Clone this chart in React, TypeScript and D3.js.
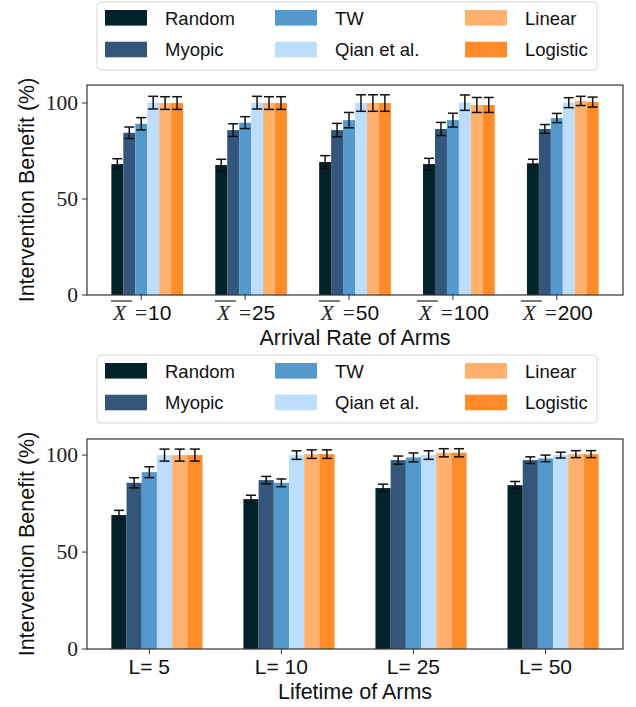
import React from 'react';
import * as d3 from 'd3';

// series / categories
const methods = ['Random', 'Myopic', 'TW', 'Qian et al.', 'Linear', 'Logistic'];
const methodColors = ['#03232a', '#34567a', '#5598cb', '#bcdefc', '#ffb16d', '#ff8c28'];

const arrivalRates = ['10', '25', '50', '100', '200'];
// rows = methods, cols = arrival rates
const arrivalMean: number[][] = [
  [68.2, 67.7, 69.3, 68.2, 68.6],
  [84.5, 85.9, 85.9, 86.5, 86.5],
  [89.2, 89.8, 91.1, 91.1, 92.2],
  [100.2, 100.2, 100.0, 100.2, 100.2],
  [100.0, 100.0, 100.0, 99.0, 101.1],
  [100.0, 100.0, 100.0, 99.0, 100.5],
];
const arrivalErr: number[][] = [
  [2.8, 3.0, 3.3, 3.0, 2.1],
  [3.0, 3.3, 3.5, 3.4, 2.3],
  [3.2, 3.1, 4.0, 3.6, 2.4],
  [3.3, 3.3, 4.3, 4.0, 2.6],
  [3.3, 3.3, 4.3, 3.9, 2.4],
  [3.3, 3.3, 4.3, 3.9, 2.6],
];

const lifetimes = ['5', '10', '25', '50'];
const lifetimeMean: number[][] = [
  [69.1, 77.3, 83.0, 84.5],
  [85.7, 87.1, 97.4, 97.4],
  [91.2, 85.7, 98.8, 98.3],
  [100.0, 100.0, 100.0, 100.0],
  [100.0, 100.5, 101.2, 100.5],
  [100.0, 100.5, 101.2, 100.5],
];
const lifetimeErr: number[][] = [
  [2.4, 2.0, 2.0, 1.9],
  [2.6, 1.9, 2.1, 1.7],
  [2.8, 2.0, 2.3, 1.7],
  [3.1, 2.2, 2.2, 1.5],
  [3.1, 2.2, 2.1, 1.8],
  [3.1, 2.2, 2.1, 1.8],
];

const yTicks = [0, 50, 100];

const SANS = '"Liberation Sans", Arial, sans-serif';
const SERIF = '"Liberation Serif", "Times New Roman", serif';

const BAR_W = 0.115;
const AX_LEFT = 87;
const AX_RIGHT = 623;

interface PanelProps {
  top: number;
  bottom: number;
  yMax: number;
  cats: string[];
  mean: number[][];
  err: number[][];
  xLabel: string;
  tickLabel: (c: string, cx: number, by: number) => React.ReactNode;
  legendTop: number;
}

const Legend: React.FC<{ y: number }> = ({ y }) => {
  const colX = [105, 275, 465];
  const textX = [165, 335, 525];
  return (
    <g>
      <rect x={97} y={y} width={500} height={68} rx={4} fill="#fff" stroke="#d6d6d6" strokeWidth={1} />
      {methods.map((m, i) => {
        const col = Math.floor(i / 2);
        const row = i % 2;
        const ry = y + 8 + row * 31.7;
        return (
          <g key={m}>
            <rect x={colX[col]} y={ry} width={42} height={15.6} fill={methodColors[i]} />
            <text x={textX[col]} y={ry + 14.5} fontFamily={SANS} fontSize={18.5} fill="#111">
              {m}
            </text>
          </g>
        );
      })}
    </g>
  );
};

// "X̄ =10" style label, laid out by hand so the bar over X sits right
const meanLabel = (c: string, cx: number, by: number) => {
  const w = 37 + c.length * 11.7;
  const x0 = cx - w / 2;
  return (
    <g>
      <line x1={x0} x2={x0 + 21} y1={by - 19} y2={by - 19} stroke="#222" strokeWidth={1.2} />
      <text x={x0 + 2} y={by} fontFamily={SERIF} fontStyle="italic" fontSize={21.5} fill="#222">
        X
      </text>
      <text x={x0 + 24} y={by} fontFamily={SERIF} fontSize={21.5} fill="#222">
        =
      </text>
      <text x={x0 + 37} y={by} fontFamily={SANS} fontSize={21} fill="#111">
        {c}
      </text>
    </g>
  );
};

const Panel: React.FC<PanelProps> = ({ top, bottom, yMax, cats, mean, err, xLabel, tickLabel, legendTop }) => {
  const n = cats.length;
  const lo = -2.5 * BAR_W;
  const hi = n - 1 + 3.5 * BAR_W;
  const span = hi - lo;
  const x = d3.scaleLinear().domain([lo - 0.05 * span, hi + 0.05 * span]).range([AX_LEFT, AX_RIGHT]);
  const y = d3.scaleLinear().domain([0, yMax]).range([bottom, top]);
  const bw = x(BAR_W) - x(0);
  const cap = 5;

  return (
    <g>
      {/* bars */}
      {methods.map((m, j) =>
        cats.map((c, i) => {
          const cx = x(i + (j - 2) * BAR_W);
          return (
            <rect
              key={m + c}
              x={cx - bw / 2}
              y={y(mean[j][i])}
              width={bw}
              height={y(0) - y(mean[j][i])}
              fill={methodColors[j]}
            />
          );
        })
      )}
      {/* error bars */}
      {methods.map((m, j) =>
        cats.map((c, i) => {
          const cx = x(i + (j - 2) * BAR_W);
          const y1 = y(mean[j][i] - err[j][i]);
          const y2 = y(mean[j][i] + err[j][i]);
          return (
            <g key={'e' + m + c} stroke="#111" strokeWidth={1.5}>
              <line x1={cx} x2={cx} y1={y1} y2={y2} />
              <line x1={cx - cap} x2={cx + cap} y1={y1} y2={y1} />
              <line x1={cx - cap} x2={cx + cap} y1={y2} y2={y2} />
            </g>
          );
        })
      )}
      {/* frame */}
      <rect x={AX_LEFT} y={top} width={AX_RIGHT - AX_LEFT} height={bottom - top} fill="none" stroke="#333" strokeWidth={1.2} />
      {/* y ticks */}
      {yTicks.map(t => (
        <g key={t}>
          <line x1={AX_LEFT - 5} x2={AX_LEFT} y1={y(t)} y2={y(t)} stroke="#333" strokeWidth={1} />
          <text x={AX_LEFT - 9} y={y(t) + 7} textAnchor="end" fontFamily={SERIF} fontSize={21.5} fill="#222">
            {t}
          </text>
        </g>
      ))}
      {/* x ticks */}
      {cats.map((c, i) => (
        <g key={c}>
          <line x1={x(i)} x2={x(i)} y1={bottom} y2={bottom + 5} stroke="#333" strokeWidth={1} />
          {tickLabel(c, x(i), bottom + 25)}
        </g>
      ))}
      <text x={(AX_LEFT + AX_RIGHT) / 2} y={bottom + 50} textAnchor="middle" fontFamily={SANS} fontSize={21.5} fill="#111">
        {xLabel}
      </text>
      <text
        transform={`translate(34, ${(top + bottom) / 2}) rotate(-90)`}
        textAnchor="middle"
        fontFamily={SANS}
        fontSize={21.5}
        fill="#111"
      >
        Intervention Benefit (%)
      </text>
      <Legend y={legendTop} />
    </g>
  );
};

const App: React.FC = () => {
  return (
    <svg
      width={636}
      height={707}
      style={{ position: 'absolute', left: 0, top: 0, background: '#fff' }}
    >
      <Panel
        top={85}
        bottom={295}
        yMax={109.4}
        cats={arrivalRates}
        mean={arrivalMean}
        err={arrivalErr}
        xLabel="Arrival Rate of Arms"
        legendTop={2}
        tickLabel={meanLabel}
      />
      <Panel
        top={439}
        bottom={649}
        yMax={108.3}
        cats={lifetimes}
        mean={lifetimeMean}
        err={lifetimeErr}
        xLabel="Lifetime of Arms"
        legendTop={355}
        tickLabel={(c, cx, by) => (
          <text x={cx} y={by} textAnchor="middle" fontFamily={SANS} fontSize={21} fill="#111">
            {'L= ' + c}
          </text>
        )}
      />
    </svg>
  );
};

export default App;
